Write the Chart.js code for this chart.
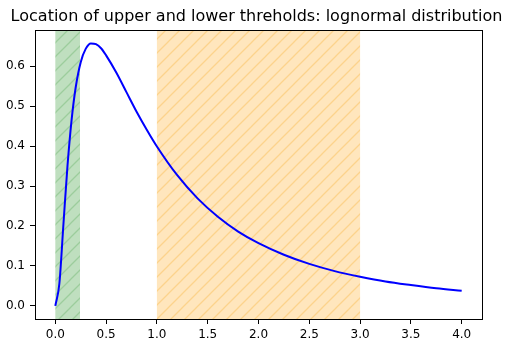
<!DOCTYPE html>
<html>
<head>
<meta charset="utf-8">
<script src="https://cdn.jsdelivr.net/npm/chart.js@4.4.0/dist/chart.umd.min.js"></script>
<style>
  html, body { margin: 0; padding: 0; background: #fff; }
</style>
</head>
<body>
<canvas id="myChart" width="505" height="340"></canvas>
<script>
// lognormal density, sampled along x
const xValues = [0, 0.04, 0.08, 0.12, 0.16, 0.2, 0.25, 0.3, 0.35, 0.4, 0.45, 0.5, 0.6, 0.7, 0.8, 0.9,
  1.0, 1.2, 1.4, 1.6, 1.8, 2.0, 2.25, 2.5, 2.75, 3.0, 3.25, 3.5, 3.75, 4.0]
const pdfValues = [0, 0.056, 0.205, 0.351, 0.465, 0.546, 0.610, 0.644, 0.657, 0.655, 0.645, 0.627, 0.584, 0.535, 0.486, 0.441,
  0.399, 0.327, 0.269, 0.223, 0.186, 0.157, 0.128, 0.105, 0.087, 0.073, 0.061, 0.052, 0.044, 0.038]

const xTicks = [0, 0.5, 1, 1.5, 2, 2.5, 3, 3.5, 4]
const yTicks = [0, 0.1, 0.2, 0.3, 0.4, 0.5, 0.6]

// thresholds (shaded spans)
const lowerBand = [0, 0.243]
const upperBand = [1, 3]

const titleText = 'Location of upper and lower threholds: lognormal distribution'

const font = { family: 'DejaVu Sans', size: 12 }

function hatchTile(bg, line) {
    const c = document.createElement('canvas')
    c.width = 14
    c.height = 14
    const g = c.getContext('2d')
    g.fillStyle = bg
    g.fillRect(0, 0, 14, 14)
    g.strokeStyle = line
    g.lineWidth = 1.3
    g.beginPath()
    g.moveTo(-2, 16); g.lineTo(16, -2)
    g.moveTo(-2, 2); g.lineTo(2, -2)
    g.moveTo(12, 16); g.lineTo(16, 12)
    g.stroke()
    return c
}

const greenTile = hatchTile('#bfdfbf', '#9ccd9c')
const orangeTile = hatchTile('#ffe6bd', '#fcd38c')

const bandsPlugin = {
    id: 'bands',
    beforeDatasetsDraw(chart) {
        const { ctx, chartArea, scales } = chart
        const spans = [[lowerBand, greenTile], [upperBand, orangeTile]]
        ctx.save()
        spans.forEach(([band, tile]) => {
            const x0 = scales.x.getPixelForValue(band[0])
            const x1 = scales.x.getPixelForValue(band[1])
            ctx.fillStyle = ctx.createPattern(tile, 'repeat')
            ctx.fillRect(x0, chartArea.top, x1 - x0, chartArea.bottom - chartArea.top)
        })
        ctx.restore()
    }
}

// axes frame + title centred over the plot area
const framePlugin = {
    id: 'frame',
    afterDraw(chart) {
        const { ctx, chartArea } = chart
        ctx.save()
        ctx.strokeStyle = '#000'
        ctx.lineWidth = 1
        ctx.strokeRect(Math.round(chartArea.left) + 0.5, Math.round(chartArea.top) + 0.5,
            Math.round(chartArea.right - chartArea.left), Math.round(chartArea.bottom - chartArea.top))
        ctx.fillStyle = '#000'
        ctx.font = '16px "DejaVu Sans"'
        ctx.textAlign = 'center'
        ctx.textBaseline = 'alphabetic'
        ctx.fillText(titleText, (chartArea.left + chartArea.right) / 2 - 2, 21)
        ctx.restore()
    }
}

const canvas = document.getElementById('myChart')

const config = {
    type: 'line',
    data: {
        datasets: [{
            data: xValues.map((x, i) => ({ x: x, y: pdfValues[i] })),
            borderColor: '#0000ff',
            borderWidth: 2,
            pointRadius: 0,
            cubicInterpolationMode: 'monotone',
            fill: false
        }]
    },
    options: {
        responsive: false,
        animation: false,
        layout: { padding: { left: 0, right: 23, top: 30, bottom: 0 } },
        plugins: {
            legend: { display: false },
            tooltip: { enabled: false },
            title: { display: false }
        },
        scales: {
            x: {
                type: 'linear',
                min: -0.2,
                max: 4.2,
                afterBuildTicks: axis => { axis.ticks = xTicks.map(v => ({ value: v })) },
                afterFit: axis => { axis.height = 21 },
                ticks: {
                    color: '#000', font: font, padding: 4, maxRotation: 0,
                    callback: v => v.toFixed(1)
                },
                grid: { drawOnChartArea: false, drawTicks: true, tickLength: 5, color: '#000' },
                border: { display: false }
            },
            y: {
                type: 'linear',
                min: -0.0329,
                max: 0.6906,
                afterBuildTicks: axis => { axis.ticks = yTicks.map(v => ({ value: v })) },
                afterFit: axis => { axis.width = 35 },
                ticks: {
                    color: '#000', font: font, padding: 5,
                    callback: v => v.toFixed(1)
                },
                grid: { drawOnChartArea: false, drawTicks: true, tickLength: 5, color: '#000' },
                border: { display: false }
            }
        }
    },
    plugins: [bandsPlugin, framePlugin]
}

const pdfChart = new Chart(canvas, config)
</script>
</body>
</html>
